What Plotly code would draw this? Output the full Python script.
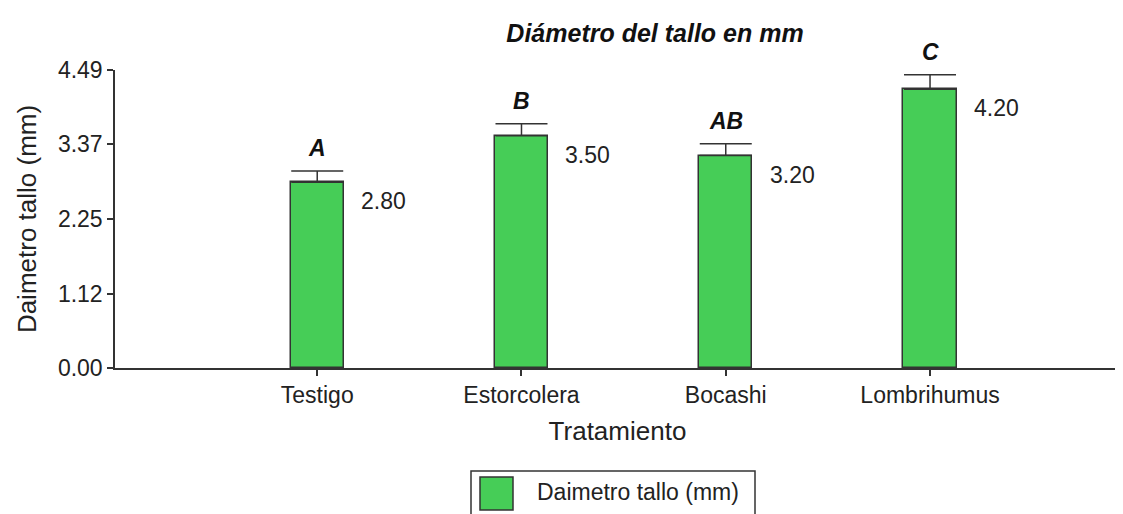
import plotly.graph_objects as go

categories = ["Testigo", "Estorcolera", "Bocashi", "Lombrihumus"]
values = [2.80, 3.50, 3.20, 4.20]
errors = [0.17, 0.18, 0.18, 0.22]
letters = ["A", "B", "AB", "C"]
y_ticks = [0.00, 1.12, 2.25, 3.37, 4.49]
series_name = "Daimetro tallo (mm)"

FONT = "Liberation Sans, Arial, sans-serif"
GREEN = "#46CD57"
DARK = "#333333"
TXT = "#222222"

# page body has an 8px margin: figure is offset by 8px
OFF = 8
L, R, T, B = 107, 3, 62, 146
W, H = 1123 - OFF, 514 - OFF
PW = W - L - R
PH = H - T - B


def px(xp):  # page x -> paper
    return (xp - OFF - L) / PW


def py(yp):  # page y -> paper
    return (H - B - (yp - OFF)) / PH


fig = go.Figure()
fig.add_trace(go.Bar(
    x=list(range(len(categories))),
    y=values,
    width=0.26,
    name=series_name,
    marker=dict(color=GREEN, line=dict(color=DARK, width=1.5)),
    error_y=dict(type="data", array=errors, arrayminus=[0] * len(errors),
                 symmetric=False, color=DARK, thickness=1.5, width=26),
    showlegend=False,
))

annotations = []
for i, (v, e, l) in enumerate(zip(values, errors, letters)):
    annotations.append(dict(x=i, y=v + e, text=f"<b><i>{l}</i></b>", showarrow=False,
                            xref="x", yref="y", yanchor="middle", yshift=23,
                            font=dict(family=FONT, size=23, color="#111")))
    annotations.append(dict(x=i, y=v, text=f"{v:.2f}", showarrow=False,
                            xref="x", yref="y", xanchor="left", yanchor="middle",
                            xshift=42, yshift=-19,
                            font=dict(family=FONT, size=23, color=TXT)))

# legend drawn as a box with a swatch and label
annotations.append(dict(x=px(535), y=py(492), xref="paper", yref="paper", text=series_name,
                        showarrow=False, xanchor="left", yanchor="middle",
                        font=dict(family=FONT, size=23, color=TXT)))
shapes = [
    dict(type="rect", xref="paper", yref="paper", x0=px(471), x1=px(755), y0=py(471), y1=py(530),
         line=dict(color=DARK, width=1.5), fillcolor="white", layer="below"),
    dict(type="rect", xref="paper", yref="paper", x0=px(480), x1=px(513), y0=py(477), y1=py(510),
         line=dict(color=DARK, width=1.5), fillcolor=GREEN),
]

fig.update_layout(
    width=W, height=H,
    margin=dict(l=L, r=R, t=T, b=B),
    paper_bgcolor="white", plot_bgcolor="white",
    title=dict(text="<b><i>Diámetro del tallo en mm</i></b>", x=(655 - OFF) / W, xanchor="center",
               y=1 - (33 - OFF) / H, yanchor="middle",
               font=dict(family=FONT, size=25, color="#111")),
    font=dict(family=FONT, color=TXT),
    xaxis=dict(range=[-0.99, 3.93], tickvals=list(range(len(categories))), ticktext=categories,
               showline=True, linecolor=DARK, linewidth=1.5, ticks="outside", ticklen=6,
               tickcolor=DARK, tickwidth=1.5, showgrid=False, zeroline=False,
               tickfont=dict(family=FONT, size=23, color=TXT),
               title=dict(text="Tratamiento", font=dict(family=FONT, size=26, color=TXT), standoff=14)),
    yaxis=dict(range=[0, 4.49], tickvals=y_ticks, ticktext=[f"{t:.2f}" for t in y_ticks],
               showline=True, linecolor=DARK, linewidth=1.5, ticks="outside", ticklen=6,
               tickcolor=DARK, tickwidth=1.5, showgrid=False, zeroline=False,
               tickfont=dict(family=FONT, size=23, color=TXT),
               title=dict(text="Daimetro tallo (mm)", font=dict(family=FONT, size=26, color=TXT), standoff=14)),
    showlegend=False,
    annotations=annotations,
    shapes=shapes,
    bargap=0,
)

fig.write_html("out.html")
